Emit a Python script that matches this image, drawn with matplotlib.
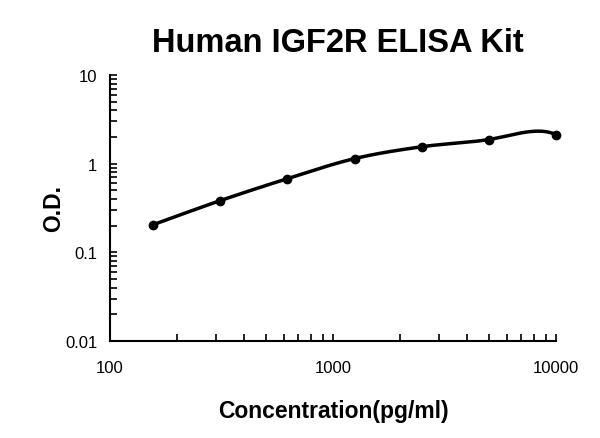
import numpy as np
import matplotlib.pyplot as plt

# Standard concentrations (pg/ml) and measured O.D.
concentration = [156.25, 312.5, 625, 1250, 2500, 5000, 10000]
od = [0.205, 0.383, 0.677, 1.14, 1.55, 1.87, 2.12]

plt.rcParams['font.family'] = ['Liberation Sans', 'DejaVu Sans']

fig = plt.figure(figsize=(6, 4.39), dpi=100)
ax = fig.add_axes([0.1833, 0.221, 0.7434, 0.606])
ax.set_xscale('log')
ax.set_yscale('log')
ax.set_xlim(100, 10000)
ax.set_ylim(0.01, 10)

# Smoothed curve: cubic Bezier segments through the points, in log space
u = np.log10(concentration)
v = np.log10(od)
n = len(u)
tu = np.zeros(n)
tv = np.zeros(n)
for i in range(n):
    a = max(i - 1, 0)
    b = min(i + 1, n - 1)
    tu[i] = (u[b] - u[a]) / (b - a)
    tv[i] = (v[b] - v[a]) / (b - a)
# end hook like the spreadsheet smoothing
tu[-1] = 0.25
tv[-1] = -0.3
tv[-2] = 0.12

t = np.linspace(0, 1, 40)[:, None]
curve = []
for i in range(n - 1):
    p0 = np.array([u[i], v[i]])
    p3 = np.array([u[i + 1], v[i + 1]])
    p1 = p0 + np.array([tu[i], tv[i]]) / 3
    p2 = p3 - np.array([tu[i + 1], tv[i + 1]]) / 3
    seg = ((1 - t) ** 3 * p0 + 3 * (1 - t) ** 2 * t * p1
           + 3 * (1 - t) * t ** 2 * p2 + t ** 3 * p3)
    curve.append(seg)
curve = np.vstack(curve)
ax.plot(10 ** curve[:, 0], 10 ** curve[:, 1], color='black', lw=2.5,
        solid_capstyle='round', clip_on=False)
ax.plot(concentration, od, 'o', color='black', markersize=6, clip_on=False)

ax.spines['top'].set_visible(False)
ax.spines['right'].set_visible(False)
ax.spines['left'].set_linewidth(1.5)
ax.spines['bottom'].set_linewidth(1.5)
ax.tick_params(which='both', direction='in', width=1.2, labelsize=12)
ax.tick_params(which='major', length=5)
ax.tick_params(which='minor', length=5)
ax.tick_params(axis='x', which='both', pad=14)
ax.tick_params(axis='y', which='both', pad=9)
ax.set_xticks([100, 1000, 10000])
ax.set_xticklabels(['100', '1000', '10000'])
ax.set_yticks([0.01, 0.1, 1, 10])
ax.set_yticklabels(['0.01', '0.1', '1', '10'])
ax.yaxis.set_minor_formatter(plt.NullFormatter())
ax.xaxis.set_minor_formatter(plt.NullFormatter())

ax.set_title('Human IGF2R ELISA Kit', fontsize=23.5, fontweight='bold',
             pad=17, x=0.51)
ax.set_xlabel('Concentration(pg/ml)', fontsize=16.5, fontweight='bold', labelpad=17)
ax.set_ylabel('O.D.', fontsize=16.5, fontweight='bold', labelpad=0)

fig.savefig('out.png', dpi=100)
